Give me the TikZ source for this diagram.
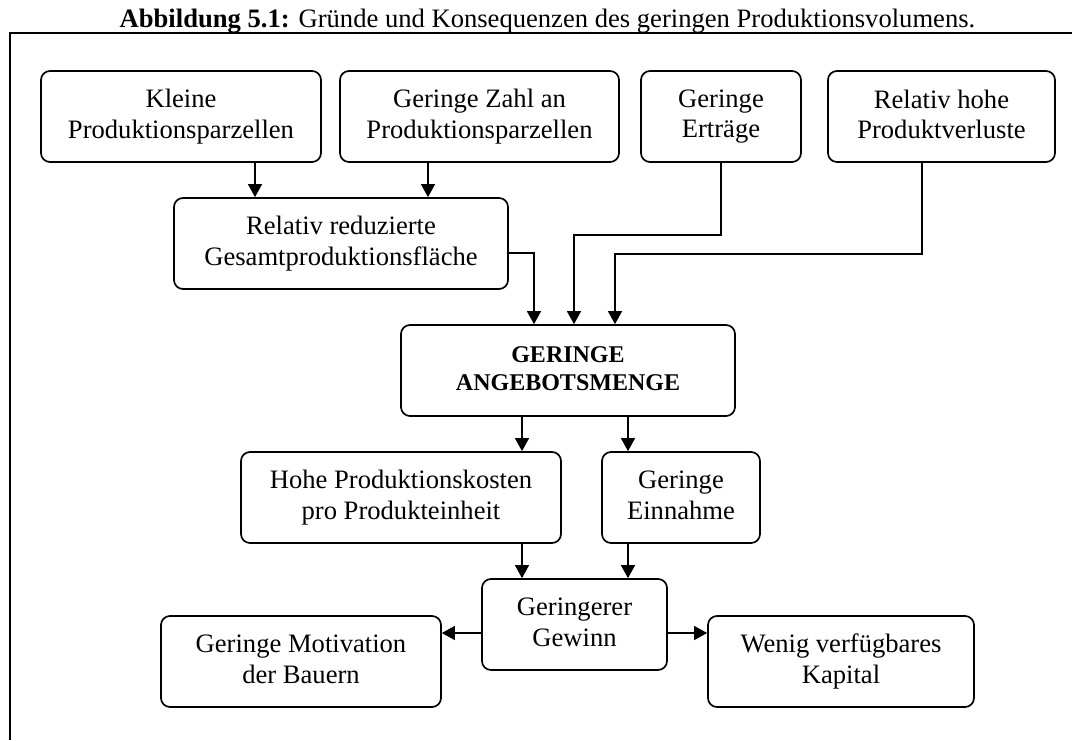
\documentclass[tikz,border=0pt]{standalone}
\usepackage{fontspec}
\setmainfont{Liberation Serif}
\usetikzlibrary{arrows.meta, positioning}

\begin{document}
\begin{tikzpicture}[
  x=50pt, y=-50pt,
  box/.style={rectangle, rounded corners=4.5pt, draw=black, line width=0.85pt, fill=white,
              minimum height=45.5pt, inner sep=2pt, align=center,
              font=\fontsize{13.3}{15.3}\selectfont,
              execute at begin node={\rule{0pt}{11pt}},
              execute at end node={\rule[-2.2pt]{0pt}{2.2pt}}},
  keybox/.style={box, font=\fontsize{12}{14}\selectfont\bfseries},
  arr/.style={-{Triangle[length=6.5pt, width=7pt]}, line width=0.65pt},
  frame/.style={line width=0.85pt}
]
  \useasboundingbox (0,0) rectangle (10.72,7.40);

  % caption and frame
  \node[anchor=base, font=\fontsize{13.3}{15.3}\selectfont] (caption) at (5.475,0.27)
       {\textbf{Abbildung 5.1:} Gründe und Konsequenzen des geringen Produktionsvolumens.};
  \draw[frame] (0.10,7.40) -- (0.10,0.33) -- (10.72,0.33);

  % causes
  \node[box, minimum width=140pt]   (kleine)   at (1.81,  1.165) {Kleine\\Produktionsparzellen};
  \node[box, minimum width=139.5pt] (zahl)     at (4.795, 1.165) {Geringe Zahl an\\Produktionsparzellen};
  \node[box, minimum width=80pt]    (ertraege) at (7.21,  1.165) {Geringe\\Erträge};
  \node[box, minimum width=113.5pt] (verluste) at (9.415, 1.165) {Relativ hohe\\Produktverluste};
  \node[box, minimum width=167pt]   (flaeche)  at (3.41,  2.435) {Relativ reduzierte\\Gesamtproduktionsfläche};

  \node[keybox, minimum width=167pt] (menge) at (5.68, 3.705) {GERINGE\\ANGEBOTSMENGE};

  % consequences
  \node[box, minimum width=160pt]   (kosten)   at (4.01,  4.975) {Hohe Produktionskosten\\pro Produkteinheit};
  \node[box, minimum width=79pt]    (einnahme) at (6.81,  4.975) {Geringe\\Einnahme};
  \node[box, minimum width=92.5pt]  (gewinn)   at (5.745, 6.245) {Geringerer\\Gewinn};
  \node[box, minimum width=140pt]   (motiv)    at (3.01,  6.615) {Geringe Motivation\\der Bauern};
  \node[box, minimum width=133pt]   (kapital)  at (8.41,  6.615) {Wenig verfügbares\\Kapital};

  \draw[arr] ([xshift=37pt]kleine.south)  -- ([xshift=37pt]kleine.south |- flaeche.north);
  \draw[arr] ([xshift=-25.75pt]zahl.south) -- ([xshift=-25.75pt]zahl.south |- flaeche.north);
  \draw[arr] ([yshift=-4.75pt]flaeche.east) -| ([xshift=-17pt]menge.north);
  \draw[arr] (ertraege.south) -- ++(0,-36pt) -| ([xshift=3pt]menge.north);
  \draw[arr] ([xshift=-9.75pt]verluste.south) -- ++(0,-45.5pt) -| ([xshift=23.5pt]menge.north);

  \draw[arr] ([xshift=-23pt]menge.south) -- ([xshift=-23pt]menge.south |- kosten.north);
  \draw[arr] ([xshift=30pt]menge.south)  -- ([xshift=30pt]menge.south |- einnahme.north);
  \draw[arr] ([xshift=60.5pt]kosten.south)   -- ([xshift=60.5pt]kosten.south |- gewinn.north);
  \draw[arr] ([xshift=-26.5pt]einnahme.south) -- ([xshift=-26.5pt]einnahme.south |- gewinn.north);
  \draw[arr] ([yshift=-4.25pt]gewinn.west) -- ([yshift=-4.25pt]gewinn.west -| motiv.east);
  \draw[arr] ([yshift=-4.25pt]gewinn.east) -- ([yshift=-4.25pt]gewinn.east -| kapital.west);
\end{tikzpicture}
\end{document}
